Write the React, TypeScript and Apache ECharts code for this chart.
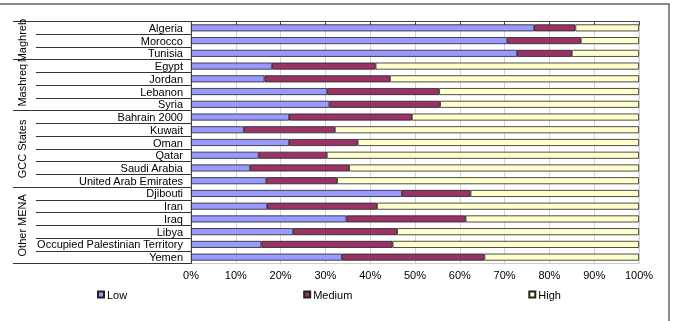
import React, { useEffect, useRef } from "react";
import * as echarts from "echarts";

const countries = [
  "Algeria", "Morocco", "Tunisia",
  "Egypt", "Jordan", "Lebanon", "Syria",
  "Bahrain 2000", "Kuwait", "Oman", "Qatar", "Saudi Arabia", "United Arab Emirates",
  "Djibouti", "Iran", "Iraq", "Libya", "Occupied Palestinian Territory", "Yemen",
];
const lowShare = [76.6, 70.6, 72.8, 18.1, 16.4, 30.4, 30.9, 21.9, 11.8, 21.9, 15.1, 13.2, 16.8, 47.1, 17.0, 34.7, 22.8, 15.7, 33.7];
const mediumShare = [9.2, 16.4, 12.2, 23.1, 28.0, 25.0, 24.7, 27.4, 20.3, 15.3, 15.2, 22.1, 15.8, 15.3, 24.5, 26.6, 23.2, 29.3, 31.8];
const highShare = [14.2, 13.0, 15.0, 58.8, 55.6, 44.6, 44.4, 50.7, 67.9, 62.8, 69.7, 64.7, 67.4, 37.6, 58.5, 38.7, 54.0, 55.0, 34.5];

const groupNames = ["Maghreb", "Mashreq", "GCC States", "Other MENA"];
const groupBounds = [0, 3, 7, 13, 19];
const groupCenters = [1.5, 5, 10, 16];
const xTicks = [0, 10, 20, 30, 40, 50, 60, 70, 80, 90, 100];

export default function App() {
  const ref = useRef<HTMLDivElement>(null);
  useEffect(() => {
    if (!ref.current) return;
    const chart = echarts.init(ref.current, null, { renderer: "svg" });
    const font = "Liberation Sans, Arial, sans-serif";
    const border = { borderColor: "#222", borderWidth: 0.8 };
    const rowBounds = countries.map((_, i) => i).concat([countries.length]);
    chart.setOption({
      animation: false,
      textStyle: { fontFamily: font },
      graphic: [
        {
          type: "rect",
          shape: { x: -5, y: 4, width: 674, height: 330 },
          style: { fill: "none", stroke: "#666", lineWidth: 1.5 },
          silent: true,
        },
      ],
      grid: {
        left: 191, right: 41, top: 21.5, bottom: 57.5,
        show: true, borderColor: "#ccc", borderWidth: 1, backgroundColor: "transparent",
      },
      legend: {
        data: ["Low", "Medium", "High"],
        left: 92, top: 284,
        icon: "rect", itemWidth: 6, itemHeight: 6, itemGap: 176,
        textStyle: { fontSize: 11, color: "#000", fontFamily: font, padding: [0, 0, 0, -2] },
      },
      xAxis: {
        type: "value", min: 0, max: 100, interval: 10,
        axisLine: { show: true, lineStyle: { color: "#444", width: 1 } },
        axisTick: { show: true, length: 4, lineStyle: { color: "#444" } },
        axisLabel: { formatter: (v: number) => v + "%", fontSize: 11, color: "#000", fontFamily: font, margin: 6, customValues: xTicks },
        splitLine: { show: true, lineStyle: { color: "#d4d4d4", width: 1 } },
      },
      yAxis: [
        {
          type: "category", data: countries, inverse: true, position: "left",
          axisLine: { show: true, lineStyle: { color: "#444" } },
          axisTick: { show: false },
          axisLabel: { interval: 0, fontSize: 11, color: "#000", fontFamily: font, margin: 8 },
        },
        {
          type: "value", min: 0, max: 19, inverse: true, position: "left",
          axisLine: { show: false },
          axisTick: { show: true, length: 155, customValues: rowBounds, lineStyle: { color: "#333", width: 1 } },
          axisLabel: { show: false },
          splitLine: { show: false },
        },
        {
          type: "value", min: 0, max: 19, inverse: true, position: "left",
          axisLine: { show: false },
          axisTick: { show: true, length: 178, customValues: groupBounds, lineStyle: { color: "#333", width: 1 } },
          axisLabel: {
            show: true, customValues: groupCenters, rotate: 90, margin: 169,
            align: "center", verticalAlign: "middle",
            fontSize: 11, color: "#000", fontFamily: font,
            formatter: (v: number) => groupNames[groupCenters.indexOf(v)] ?? "",
          },
          splitLine: { show: false },
        },
      ],
      series: [
        { name: "Low", type: "bar", stack: "t", yAxisIndex: 0, barWidth: 7, data: lowShare, itemStyle: { color: "#9999FF", ...border } },
        { name: "Medium", type: "bar", stack: "t", yAxisIndex: 0, barWidth: 7, data: mediumShare, itemStyle: { color: "#993366", ...border } },
        { name: "High", type: "bar", stack: "t", yAxisIndex: 0, barWidth: 7, data: highShare, itemStyle: { color: "#FFFFCC", ...border } },
      ],
    });
    return () => chart.dispose();
  }, []);
  return <div ref={ref} style={{ position: "fixed", left: 0, top: 0, width: 680, height: 321 }} />;
}
